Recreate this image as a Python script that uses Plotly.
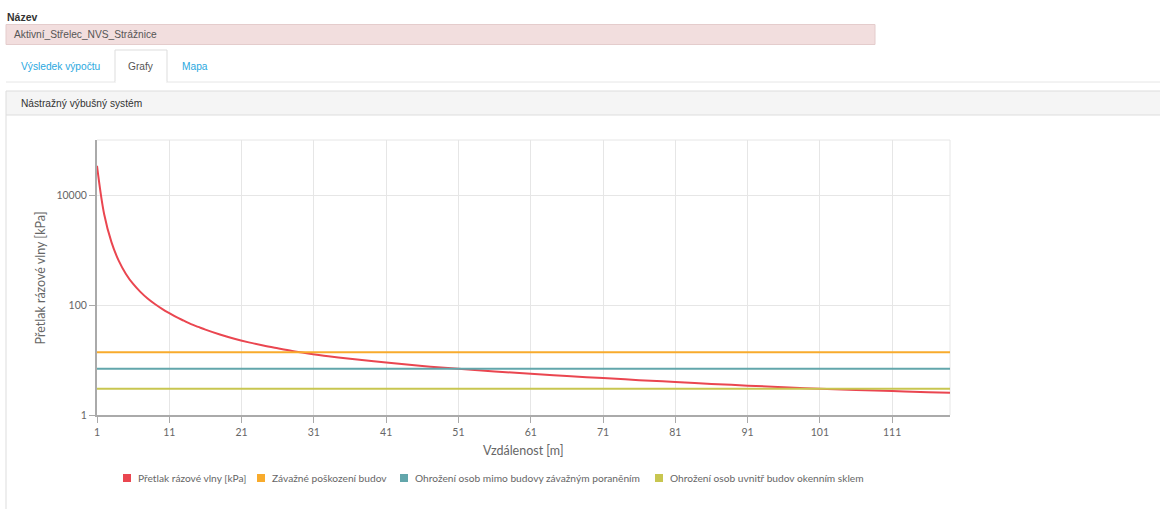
import plotly.graph_objects as go

# Blast overpressure vs. distance, with three damage/injury thresholds
distance_m = [1, 2, 3, 4, 5, 6, 7, 8, 9, 10, 11, 12, 13, 14, 15, 16, 18, 20,
              22, 24, 26, 28, 30, 33, 36, 41, 46, 51, 56, 61, 66, 71, 76, 81,
              86, 91, 96, 101, 106, 111, 116, 119]
overpressure_kpa = [34000, 4430, 1390, 640, 367, 241, 173, 131, 104, 85, 71,
                    60, 52, 45, 40, 35.6, 29.0, 24.3, 20.9, 18.3, 16.3, 14.6,
                    13.3, 11.7, 10.5, 9.0, 7.8, 6.9, 6.2, 5.6, 5.1, 4.7, 4.3,
                    3.98, 3.68, 3.42, 3.20, 3.00, 2.85, 2.72, 2.60, 2.54]

threshold_names = ["Závažné poškození budov",
                   "Ohrožení osob mimo budovy závažným poraněním",
                   "Ohrožení osob uvnitř budov okenním sklem"]
threshold_kpa = [13.8, 6.9, 3.0]

series_name = "Přetlak rázové vlny [kPa]"
x_ticks = [1, 11, 21, 31, 41, 51, 61, 71, 81, 91, 101, 111]
y_ticks = [1, 100, 10000]

colors = ["#ea4650", "#f8ab2c", "#62a6ab", "#c8c650"]

W, H = 1160, 509
L, R, T, B = 97, 950, 140, 415


def px(x):
    return (x - L) / (R - L)


def py(y):
    return (B - y) / (B - T)


PAGE_FONT = "Liberation Sans"
CHART_FONT = "Lato"

fig = go.Figure()

fig.add_trace(go.Scatter(
    x=distance_m, y=overpressure_kpa, mode="lines", name=series_name,
    line=dict(color=colors[0], width=2, shape="spline", smoothing=1.0),
    showlegend=False))

for name, val, col in zip(threshold_names, threshold_kpa, colors[1:]):
    fig.add_trace(go.Scatter(
        x=[distance_m[0], distance_m[-1]], y=[val, val], mode="lines",
        name=name, line=dict(color=col, width=2), showlegend=False))

shapes = []
annotations = []


def rect(x0, y0, x1, y1, fill, line="#dddddd", lw=1, layer="below"):
    shapes.append(dict(type="rect", xref="paper", yref="paper",
                       x0=px(x0), x1=px(x1), y0=py(y0), y1=py(y1),
                       fillcolor=fill, line=dict(color=line, width=lw),
                       layer=layer))


def hline(x0, x1, y, color, lw=1, layer="below"):
    shapes.append(dict(type="line", xref="paper", yref="paper",
                       x0=px(x0), x1=px(x1), y0=py(y), y1=py(y),
                       line=dict(color=color, width=lw), layer=layer))


def vline(x, y0, y1, color, lw=1, layer="below"):
    shapes.append(dict(type="line", xref="paper", yref="paper",
                       x0=px(x), x1=px(x), y0=py(y0), y1=py(y1),
                       line=dict(color=color, width=lw), layer=layer))


def text(x, y, s, size=11, color="#333333", family=PAGE_FONT,
         xanchor="left", angle=0):
    annotations.append(dict(xref="paper", yref="paper", x=px(x), y=py(y),
                            text=s, showarrow=False, xanchor=xanchor,
                            yanchor="middle", textangle=angle,
                            font=dict(size=size, color=color, family=family)))


# Form header: name field
text(5, 17, "<b>Název</b>", size=10.5, color="#333333")
rect(6, 24.5, 875, 44.5, "#f2dede", line="#e4cccc")
text(12, 34.5, "Aktivní_Střelec_NVS_Strážnice", size=10.2, color="#555555")

# Tabs
hline(6, 1160, 82, "#e6e6e6")
rect(115, 50, 167, 82, "#ffffff", line="#dddddd")
hline(115.5, 166.5, 82, "#ffffff", lw=2)
text(60, 66, "Výsledek výpočtu", size=10.2, color="#2aa8e0", xanchor="center")
text(141, 66, "Grafy", size=10.2, color="#555555", xanchor="center")
text(195, 66, "Mapa", size=10.2, color="#2aa8e0", xanchor="center")

# Panel
rect(6, 91, 1165, 115, "#f5f5f5", line="#dddddd")
vline(6, 115, 515, "#dddddd")
text(19, 103, "Nástražný výbušný systém", size=10.2, color="#333333")

# Plot frame: top and right borders
hline(L, R, T, "#e6e6e6")
vline(R, T, B, "#e6e6e6")

# Axis titles
text((L + R) / 2, 450, "Vzdálenost [m]", size=12.5, color="#666666",
     family=CHART_FONT, xanchor="center")
annotations.append(dict(xref="paper", yref="paper", x=px(40), y=py(277.5),
                        text=series_name, showarrow=False, textangle=-90,
                        xanchor="center", yanchor="middle",
                        font=dict(size=12.5, color="#666666", family=CHART_FONT)))

# Legend
legend_items = [series_name] + threshold_names
legend_box_x = [123, 257, 400, 655]
legend_y = 478
for name, col, lx in zip(legend_items, colors, legend_box_x):
    shapes.append(dict(type="rect", xref="paper", yref="paper",
                       x0=px(lx), x1=px(lx + 8), y0=py(legend_y - 4),
                       y1=py(legend_y + 4), fillcolor=col,
                       line=dict(width=0), layer="above"))
    text(lx + 13, legend_y, name, size=10.2, color="#666666", family=CHART_FONT)

fig.update_layout(
    width=W, height=H, autosize=False,
    margin=dict(l=L, r=W - R, t=T, b=H - B, pad=0),
    paper_bgcolor="#ffffff", plot_bgcolor="#ffffff",
    shapes=shapes, annotations=annotations, showlegend=False,
    font=dict(family=CHART_FONT, color="#666666", size=10),
)

fig.update_xaxes(
    range=[distance_m[0], distance_m[-1]], tickvals=x_ticks,
    ticks="outside", ticklen=6, tickcolor="#aaaaaa",
    showgrid=True, gridcolor="#e6e6e6", gridwidth=1,
    showline=True, linecolor="#aaaaaa", linewidth=2,
    zeroline=False, tickfont=dict(size=10.5, color="#666666"),
)
fig.update_yaxes(
    type="log", range=[0, 5], tickvals=y_ticks,
    ticktext=[str(v) for v in y_ticks],
    ticks="outside", ticklen=6, tickcolor="#aaaaaa",
    showgrid=True, gridcolor="#e6e6e6", gridwidth=1,
    showline=True, linecolor="#aaaaaa", linewidth=2,
    zeroline=False, tickfont=dict(size=10.5, color="#666666"),
)

fig.write_html("out.html")
